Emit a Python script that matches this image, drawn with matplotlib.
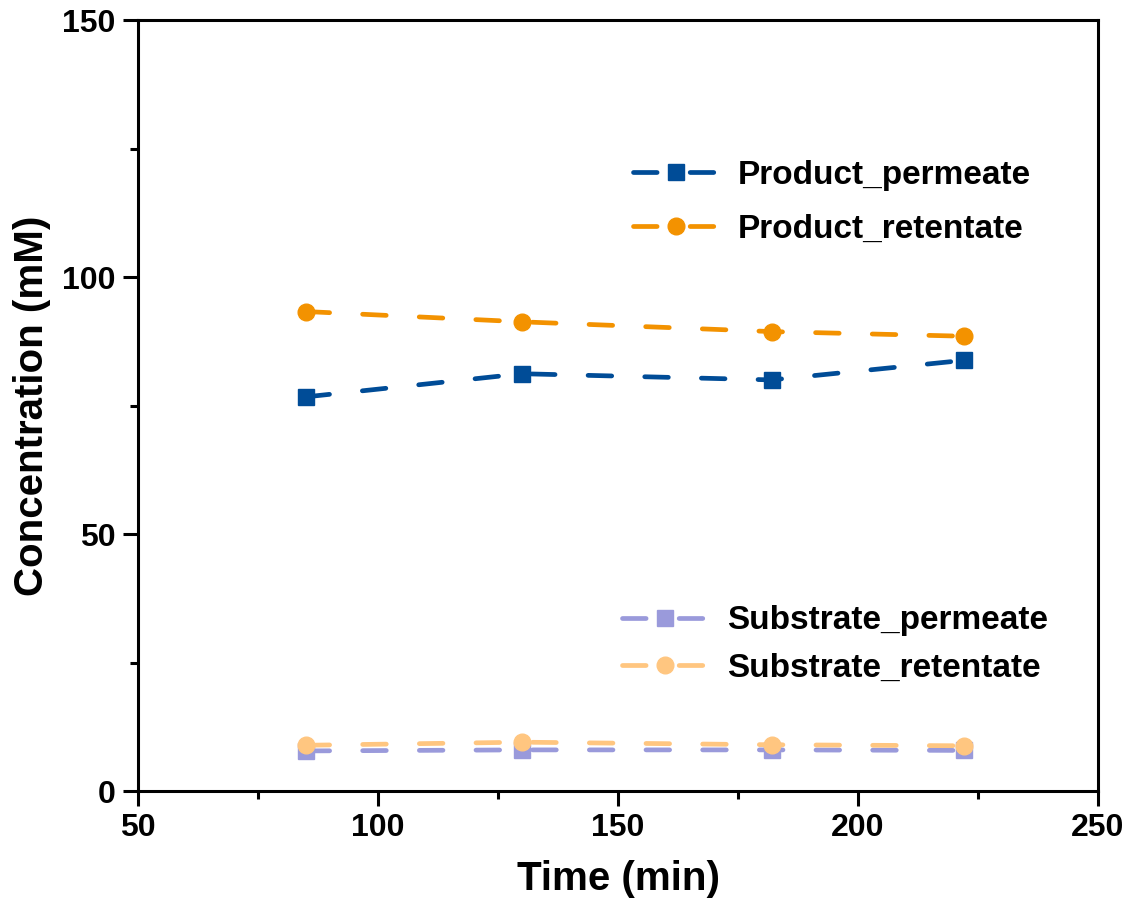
import matplotlib.pyplot as plt
from matplotlib.ticker import MultipleLocator

plt.rcParams['font.family'] = ['Liberation Sans', 'DejaVu Sans']
plt.rcParams['font.weight'] = 'bold'

# data
time_min = [85, 130, 182, 222]
product_permeate = [76.7, 81.2, 80.0, 83.8]
product_retentate = [93.3, 91.3, 89.4, 88.5]
substrate_permeate = [7.8, 8.0, 8.0, 7.9]
substrate_retentate = [8.9, 9.5, 9.0, 8.8]

fig = plt.figure(figsize=(11.34, 9.17), dpi=100)
ax = fig.add_axes([0.1217, 0.1374, 0.8466, 0.8406])

style = dict(linestyle=(0, (5, 7)), linewidth=3.4, dash_capstyle='round', markersize=12)

l1, = ax.plot(time_min, product_permeate, marker='s', color='#004C97', label='Product_permeate', **style)
l2, = ax.plot(time_min, product_retentate, marker='o', color='#F39200', label='Product_retentate', **style)
l3, = ax.plot(time_min, substrate_permeate, marker='s', color='#9A9ADB', label='Substrate_permeate', **style)
l4, = ax.plot(time_min, substrate_retentate, marker='o', color='#FFC680', label='Substrate_retentate', **style)

ax.set_xlim(50, 250)
ax.set_ylim(0, 150)
ax.xaxis.set_major_locator(MultipleLocator(50))
ax.xaxis.set_minor_locator(MultipleLocator(25))
ax.yaxis.set_major_locator(MultipleLocator(50))
ax.yaxis.set_minor_locator(MultipleLocator(25))
ax.tick_params(which='major', direction='out', length=11, width=2.2, labelsize=23, pad=5)
ax.tick_params(which='minor', direction='out', length=6, width=2.2)
for s in ax.spines.values():
    s.set_linewidth(2.2)

ax.set_xlabel('Time (min)', fontsize=29, fontweight='bold', labelpad=12)
ax.set_ylabel('Concentration (mM)', fontsize=29, fontweight='bold', labelpad=8)

leg1 = ax.legend(handles=[l1, l2], loc='center left', bbox_to_anchor=(0.484, 0.764),
                 frameon=False, fontsize=24, handlelength=2.6, handletextpad=0.55, labelspacing=0.68)
ax.add_artist(leg1)
ax.legend(handles=[l3, l4], loc='center left', bbox_to_anchor=(0.473, 0.19),
          frameon=False, fontsize=24, handlelength=2.6, handletextpad=0.55, labelspacing=0.5)

fig.savefig('out.png', dpi=100)
